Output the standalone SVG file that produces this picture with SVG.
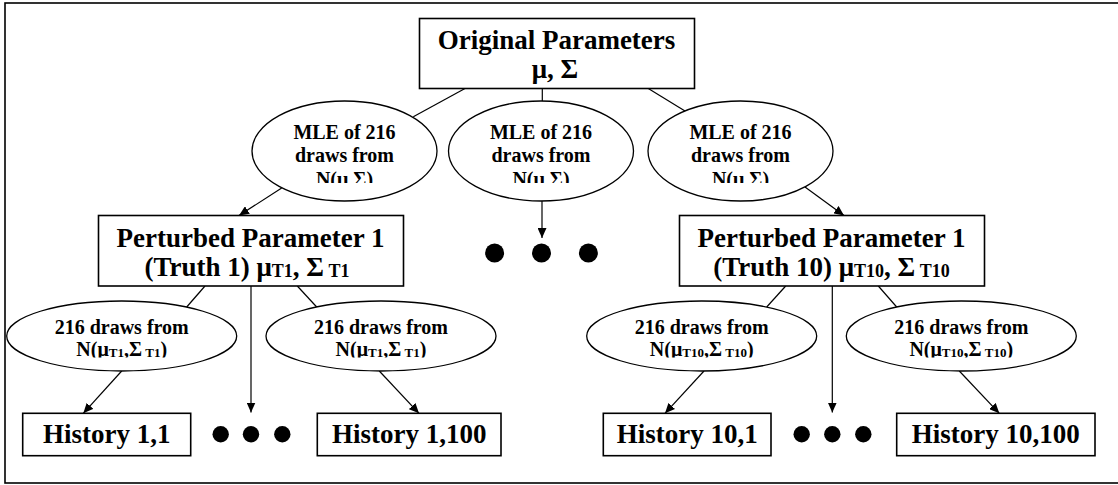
<svg xmlns="http://www.w3.org/2000/svg" width="1118" height="485" viewBox="0 0 1118 485">
<style>
.t{font-family:"Liberation Serif","Times New Roman",serif;font-weight:bold;fill:#000;text-anchor:middle}
.big{font-size:27px}
.mid{font-size:20px}
.box{fill:#fff;stroke:#000;stroke-width:1.6}
.ell{fill:#fff;stroke:#000;stroke-width:1.3}
.ln{stroke:#000;stroke-width:1.2;fill:none}
.arr{marker-end:url(#ah)}
.dot{fill:#000}
</style>
<defs>
<marker id="ah" markerUnits="userSpaceOnUse" markerWidth="11" markerHeight="9" refX="10" refY="4.5" orient="auto">
<path d="M0,0 L10,4.5 L0,9 z" fill="#000"/>
</marker>
<clipPath id="clipUp" clipPathUnits="userSpaceOnUse"><rect x="0" y="0" width="1118" height="183"/></clipPath>
<clipPath id="clipLow" clipPathUnits="userSpaceOnUse"><rect x="0" y="0" width="1118" height="357.5"/></clipPath>
</defs>
<rect x="0" y="0" width="1118" height="485" fill="#fff"/>
<rect x="5" y="3" width="1120" height="480" fill="none" stroke="#000" stroke-width="1.6"/>

<g id="connectors">
<line class="ln" x1="465" y1="88.5" x2="413.3" y2="116.7"/>
<line class="ln" x1="542.3" y1="88.5" x2="542.3" y2="101"/>
<line class="ln" x1="648.3" y1="88.5" x2="685" y2="111"/>
<line class="ln arr" x1="281.7" y1="188" x2="239" y2="215.5"/>
<line class="ln arr" x1="542" y1="201" x2="542" y2="238"/>
<line class="ln arr" x1="805" y1="187" x2="844" y2="215.5"/>
<line class="ln" x1="205" y1="286" x2="186.7" y2="307"/>
<line class="ln arr" x1="251" y1="286" x2="251" y2="412.5"/>
<line class="ln" x1="297.3" y1="286" x2="316.7" y2="307"/>
<line class="ln" x1="785.7" y1="286" x2="766.7" y2="307"/>
<line class="ln arr" x1="832.3" y1="286" x2="832.3" y2="412.5"/>
<line class="ln" x1="878.3" y1="286" x2="896.7" y2="307"/>
<line class="ln arr" x1="121.7" y1="371" x2="83.3" y2="413.3"/>
<line class="ln arr" x1="379.3" y1="371" x2="419" y2="413.3"/>
<line class="ln arr" x1="704" y1="371" x2="665" y2="413.3"/>
<line class="ln arr" x1="959.3" y1="371" x2="999.3" y2="413.3"/>
</g>

<g id="original">
<rect class="box" x="419.5" y="18.5" width="275" height="70"/>
<text class="t big" x="556.5" y="48.5">Original Parameters</text>
<text class="t big" x="555" y="78">μ, Σ</text>
</g>

<g id="mle1">
<ellipse class="ell" cx="344.5" cy="151" rx="92.5" ry="50"/>
<text class="t mid" x="344.5" y="138.5">MLE of 216</text>
<text class="t mid" x="344.5" y="162">draws from</text>
<text class="t mid" x="344.5" y="185.5" clip-path="url(#clipUp)">N(μ,Σ)</text>
</g>
<g id="mle2">
<ellipse class="ell" cx="541" cy="151" rx="92.5" ry="50"/>
<text class="t mid" x="541" y="138.5">MLE of 216</text>
<text class="t mid" x="541" y="162">draws from</text>
<text class="t mid" x="541" y="185.5" clip-path="url(#clipUp)">N(μ,Σ)</text>
</g>
<g id="mle3">
<ellipse class="ell" cx="740.5" cy="151" rx="92.5" ry="50"/>
<text class="t mid" x="740.5" y="138.5">MLE of 216</text>
<text class="t mid" x="740.5" y="162">draws from</text>
<text class="t mid" x="740.5" y="185.5" clip-path="url(#clipUp)">N(μ,Σ)</text>
</g>

<g id="perturbed1">
<rect class="box" x="98.5" y="215.5" width="305" height="70.5"/>
<text class="t big" x="250.5" y="246.5">Perturbed Parameter 1</text>
<text class="t big" x="247" y="276">(Truth 1) μ<tspan font-size="18" dy="1">T1</tspan><tspan dy="-1">, Σ</tspan><tspan font-size="18" dy="1"> T1</tspan></text>
</g>
<g id="perturbed10">
<rect class="box" x="679.5" y="215.5" width="305" height="70.5"/>
<text class="t big" x="831.5" y="246.5">Perturbed Parameter 1</text>
<text class="t big" x="831.5" y="276">(Truth 10) μ<tspan font-size="18" dy="1">T10</tspan><tspan dy="-1">, Σ</tspan><tspan font-size="18" dy="1"> T10</tspan></text>
</g>

<g id="ellipsis">
<circle class="dot" cx="494.6" cy="253" r="9.5"/>
<circle class="dot" cx="541.5" cy="253" r="9.5"/>
<circle class="dot" cx="588.4" cy="253" r="9.5"/>
<circle class="dot" cx="220.7" cy="434.3" r="8.2"/>
<circle class="dot" cx="251" cy="434.3" r="8.2"/>
<circle class="dot" cx="282.3" cy="434.3" r="8.2"/>
<circle class="dot" cx="801.7" cy="434.3" r="8.2"/>
<circle class="dot" cx="832.3" cy="434.3" r="8.2"/>
<circle class="dot" cx="863.3" cy="434.3" r="8.2"/>
</g>

<g id="draws1a">
<ellipse class="ell" cx="121.7" cy="336" rx="115" ry="35"/>
<text class="t mid" x="121.7" y="333.5">216 draws from</text>
<text class="t mid" x="121.7" y="355.5" clip-path="url(#clipLow)">N(μ<tspan font-size="13" dy="1">T1</tspan><tspan dy="-1">,Σ</tspan><tspan font-size="13" dy="1"> T1</tspan><tspan dy="-1">)</tspan></text>
</g>
<g id="draws1b">
<ellipse class="ell" cx="381" cy="336" rx="115" ry="35"/>
<text class="t mid" x="381" y="333.5">216 draws from</text>
<text class="t mid" x="381" y="355.5" clip-path="url(#clipLow)">N(μ<tspan font-size="13" dy="1">T1</tspan><tspan dy="-1">,Σ</tspan><tspan font-size="13" dy="1"> T1</tspan><tspan dy="-1">)</tspan></text>
</g>
<g id="draws10a">
<ellipse class="ell" cx="701.7" cy="336" rx="115" ry="35"/>
<text class="t mid" x="701.7" y="333.5">216 draws from</text>
<text class="t mid" x="701.7" y="355.5" clip-path="url(#clipLow)">N(μ<tspan font-size="13" dy="1">T10</tspan><tspan dy="-1">,Σ</tspan><tspan font-size="13" dy="1"> T10</tspan><tspan dy="-1">)</tspan></text>
</g>
<g id="draws10b">
<ellipse class="ell" cx="961.3" cy="336" rx="115" ry="35"/>
<text class="t mid" x="961.3" y="333.5">216 draws from</text>
<text class="t mid" x="961.3" y="355.5" clip-path="url(#clipLow)">N(μ<tspan font-size="13" dy="1">T10</tspan><tspan dy="-1">,Σ</tspan><tspan font-size="13" dy="1"> T10</tspan><tspan dy="-1">)</tspan></text>
</g>

<g id="history1_1">
<rect class="box" x="22.7" y="413.3" width="168" height="42.4"/>
<text class="t big" x="106.7" y="443">History 1,1</text>
</g>
<g id="history1_100">
<rect class="box" x="317.3" y="413.3" width="183.7" height="42.4"/>
<text class="t big" x="409.2" y="443">History 1,100</text>
</g>
<g id="history10_1">
<rect class="box" x="603.3" y="413.3" width="167.7" height="42.4"/>
<text class="t big" x="687.2" y="443">History 10,1</text>
</g>
<g id="history10_100">
<rect class="box" x="896.7" y="413.3" width="198.3" height="42.4"/>
<text class="t big" x="995.8" y="443">History 10,100</text>
</g>
</svg>
